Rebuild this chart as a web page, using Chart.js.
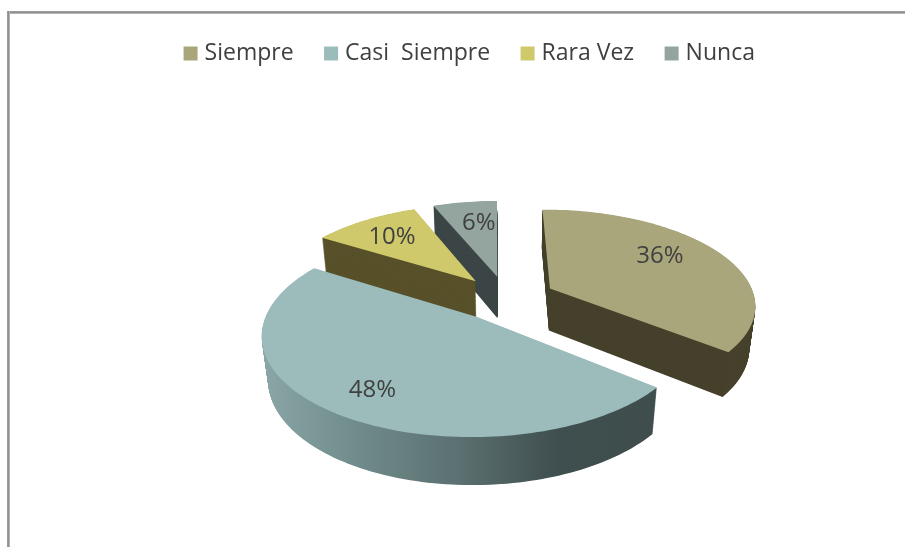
<!DOCTYPE html>
<html>
<head>
<meta charset="utf-8">
<style>
html,body{margin:0;padding:0;background:#fff;overflow:hidden}
#wrap{position:relative;width:905px;height:547px;background:#fff}
#t{position:absolute;left:7px;right:0;top:11px;height:3px;background:linear-gradient(#a8a8a8,#868686 40%,#c4c4c4)}
#l{position:absolute;left:7px;top:11px;bottom:0;width:3px;background:linear-gradient(90deg,#a8a8a8,#868686 40%,#c4c4c4)}
canvas{position:absolute;left:0;top:0;filter:blur(0.35px)}
</style>
<script src="https://cdn.jsdelivr.net/npm/chart.js@4/dist/chart.umd.min.js"></script>
</head>
<body>
<div id="wrap"><div id="t"></div><div id="l"></div><canvas id="c" width="905" height="547"></canvas></div>
<script>
const categories = ["Siempre", "Casi  Siempre", "Rara Vez", "Nunca"];
const values = [36, 48, 10, 6];
const topColors = ["#a9a67c", "#9bbcbb", "#cfc96c", "#93a59e"];
const sideColors = ["#46412c", null, "#58512a", "#3c4545"];
const casiSideStops = [[0, "#8ba6a6"], [0.25, "#6f8a8a"], [0.5, "#5b7070"], [0.75, "#3f4e4e"], [1, "#3f4d4d"]];
const drawOrder = [3, 2, 0, 1];
const labelNudge = [[7, -9], [-22, 20], [-14, -6], [2, -6]];

const PIE = {cx: 506.5, cy: 298, flatten: 0.4595, persp: 0.16, depth: 43.5, conv: 0.025};

function project(el, turn, frac, z) {
  // turn: clockwise angle from the top, frac: fraction of radius, z: 0 top face .. 1 bottom face
  const R = el.outerRadius;
  const e = el.options.offset / R;
  const mid = (el.startAngle + el.endAngle) / 2 + Math.PI / 2;
  const U = e * Math.sin(mid) + frac * Math.sin(turn);
  const V = -e * Math.cos(mid) - frac * Math.cos(turn);
  const w = 1 - PIE.persp * V + PIE.conv * z;
  return [PIE.cx + R * U / w, PIE.cy + (R * PIE.flatten * V + PIE.depth * z) / w];
}

function slicePath(ctx, el, z) {
  const a0 = el.startAngle + Math.PI / 2, a1 = el.endAngle + Math.PI / 2;
  const n = Math.max(8, Math.ceil((a1 - a0) * 40));
  ctx.beginPath();
  let p = project(el, a0, 0, z);
  ctx.moveTo(p[0], p[1]);
  for (let i = 0; i <= n; i++) {
    p = project(el, a0 + (a1 - a0) * i / n, 1, z);
    ctx.lineTo(p[0], p[1]);
  }
  ctx.closePath();
}

const pie3d = {
  id: "pie3d",
  beforeDatasetsDraw(chart) {
    const ctx = chart.ctx;
    const arcs = chart.getDatasetMeta(0).data;
    ctx.save();
    drawOrder.forEach(i => {
      const el = arcs[i];
      let side = sideColors[i];
      if (!side) {
        const g = ctx.createLinearGradient(262, 0, 657, 0);
        casiSideStops.forEach(s => g.addColorStop(s[0], s[1]));
        side = g;
      }
      ctx.fillStyle = side;
      for (let k = 70; k >= 1; k--) { slicePath(ctx, el, k / 70); ctx.fill(); }
      ctx.fillStyle = topColors[i];
      slicePath(ctx, el, 0);
      ctx.fill();
    });
    ctx.fillStyle = "#404040";
    ctx.font = "24px 'Open Sans'";
    ctx.textAlign = "center";
    ctx.textBaseline = "middle";
    const total = values.reduce((a, b) => a + b, 0);
    arcs.forEach((el, i) => {
      const p = project(el, (el.startAngle + el.endAngle) / 2 + Math.PI / 2, 0.6, 0);
      ctx.fillText(Math.round(values[i] / total * 100) + "%", p[0] + labelNudge[i][0], p[1] + labelNudge[i][1]);
    });
    ctx.restore();
    return false;
  }
};

new Chart(document.getElementById("c"), {
  type: "pie",
  data: {
    labels: categories,
    datasets: [{data: values, backgroundColor: topColors, borderWidth: 0, offset: 49}]
  },
  options: {
    responsive: false,
    animation: false,
    radius: 205,
    rotation: -0.5,
    layout: {padding: {left: 38, top: 7}},
    plugins: {
      tooltip: {enabled: false},
      legend: {
        position: "top",
        labels: {usePointStyle: true, pointStyle: "rect", boxWidth: 5, boxHeight: 14, padding: 35, color: "#404040", font: {family: "'Open Sans'", size: 23}}
      }
    }
  },
  plugins: [pie3d]
});
</script>
</body>
</html>
